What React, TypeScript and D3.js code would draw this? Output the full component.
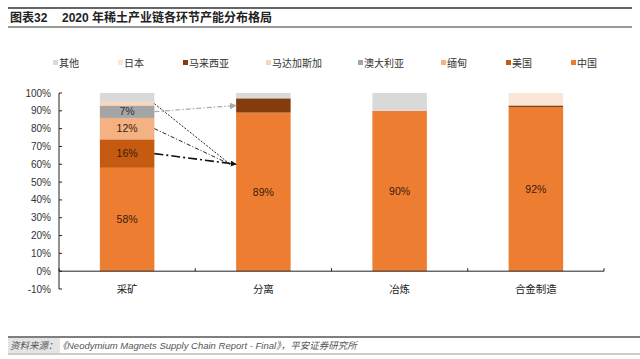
import React, { useEffect, useRef } from "react";
import * as d3 from "d3";

// categories along x
const categories = ["采矿", "分离", "冶炼", "合金制造"];

// series values per category (%), bottom -> top of stack
const china = [58, 89, 90, 92];
const usa = [16, 0, 0, 0];
const myanmar = [12, 0, 0, 0];
const australia = [7, 0, 0, 0];
const madagascar = [2, 0, 0, 0];
const malaysia = [0, 8, 0, 1];
const japan = [0, 0, 0, 7];
const others = [5, 3, 10, 0];

const seriesNames = ["中国", "美国", "缅甸", "澳大利亚", "马达加斯加", "马来西亚", "日本", "其他"];
const seriesValues = [china, usa, myanmar, australia, madagascar, malaysia, japan, others];
const seriesColors = ["#ed7d31", "#c55a11", "#f4b183", "#a5a5a5", "#fbd5b5", "#843c0c", "#fbe5d6", "#d9d9d9"];

// legend reads top of stack first
const legendOrder = ["其他", "日本", "马来西亚", "马达加斯加", "澳大利亚", "缅甸", "美国", "中国"];

// which segments carry a value label
const labelledSegments = [
  ["采矿", "中国"], ["采矿", "美国"], ["采矿", "缅甸"], ["采矿", "澳大利亚"],
  ["分离", "中国"], ["冶炼", "中国"], ["合金制造", "中国"],
];

const yTicks = [-10, 0, 10, 20, 30, 40, 50, 60, 70, 80, 90, 100];

// annotation arrows from 采矿 segments toward 分离
const arrowLinks = [
  { from: "马达加斯加", toValue: 60, kind: "dotted" },
  { from: "缅甸", toValue: 60, kind: "dashdot" },
  { from: "澳大利亚", toValue: 93, kind: "gray" },
  { from: "美国", toValue: 60, kind: "heavy" },
];

const FONT = "'Liberation Sans', Arial, 'Noto Sans CJK SC', sans-serif";

const App = () => {
  const svgRef = useRef<SVGSVGElement | null>(null);

  useEffect(() => {
    if (!svgRef.current) return;
    const W = 640, H = 359;
    const svg = d3.select(svgRef.current);
    svg.selectAll("*").remove();
    svg.attr("width", W).attr("height", H).style("font-family", FONT);

    svg.append("rect").attr("width", W).attr("height", H).attr("fill", "#fff");

    // title block
    svg.append("line").attr("x1", 8).attr("x2", 632).attr("y1", 8).attr("y2", 8)
      .attr("stroke", "#333").attr("stroke-width", 1.5);
    svg.append("line").attr("x1", 8).attr("x2", 632).attr("y1", 27).attr("y2", 27)
      .attr("stroke", "#333").attr("stroke-width", 1.2);
    svg.append("text").attr("x", 10).attr("y", 22)
      .style("font-size", "12px").style("font-weight", "bold").attr("fill", "#222")
      .text("图表32");
    svg.append("text").attr("x", 62).attr("y", 22)
      .style("font-size", "12px").style("font-weight", "bold").attr("fill", "#222")
      .text("2020 年稀土产业链各环节产能分布格局");

    // legend
    const legend = svg.append("g");
    let lx = 53;
    legendOrder.forEach((name) => {
      const color = seriesColors[seriesNames.indexOf(name)];
      legend.append("rect").attr("x", lx).attr("y", 60).attr("width", 5).attr("height", 5).attr("fill", color);
      legend.append("text").attr("x", lx + 6).attr("y", 66.5)
        .style("font-size", "10px").attr("fill", "#333").text(name);
      lx += 47 + 9 * name.length;
    });

    // scales
    const x = d3.scaleBand<string>().domain(categories).range([59, 604]).paddingInner(0.6).paddingOuter(0.3);
    const y = d3.scaleLinear().domain([-10, 100]).range([289, 93]);

    // y axis
    const gy = svg.append("g");
    gy.append("line").attr("x1", 59).attr("x2", 59).attr("y1", y(100)).attr("y2", y(-10))
      .attr("stroke", "#222").attr("stroke-width", 1);
    yTicks.forEach((t) => {
      gy.append("line").attr("x1", 59).attr("x2", 62).attr("y1", y(t)).attr("y2", y(t)).attr("stroke", "#222");
      gy.append("text").attr("x", 51).attr("y", y(t)).attr("dy", "0.35em").attr("text-anchor", "end")
        .style("font-size", "10px").attr("fill", "#333").text(`${t}%`);
    });

    // stacked bars
    const segments: { cat: string; name: string; y0: number; y1: number; color: string }[] = [];
    categories.forEach((cat, ci) => {
      let acc = 0;
      seriesNames.forEach((name, si) => {
        const v = seriesValues[si][ci];
        if (v > 0) segments.push({ cat, name, y0: acc, y1: acc + v, color: seriesColors[si] });
        acc += v;
      });
    });

    svg.append("g").selectAll("rect").data(segments).enter().append("rect")
      .attr("x", (d) => x(d.cat)!)
      .attr("width", x.bandwidth())
      .attr("y", (d) => y(d.y1))
      .attr("height", (d) => y(d.y0) - y(d.y1))
      .attr("fill", (d) => d.color);

    // value labels
    const labelled = segments.filter((s) => labelledSegments.some(([c, n]) => c === s.cat && n === s.name));
    svg.append("g").selectAll("text").data(labelled).enter().append("text")
      .attr("x", (d) => x(d.cat)! + x.bandwidth() / 2)
      .attr("y", (d) => y((d.y0 + d.y1) / 2))
      .attr("dy", "0.35em").attr("text-anchor", "middle")
      .style("font-size", "10.5px")
      .attr("fill", (d) => (d.name === "澳大利亚" ? "#2b2f3a" : "#3d1a08"))
      .text((d) => `${d.y1 - d.y0}%`);

    // x axis at 0%
    const gx = svg.append("g");
    gx.append("line").attr("x1", 59).attr("x2", 604).attr("y1", y(0)).attr("y2", y(0)).attr("stroke", "#222");
    const step = x.step();
    d3.range(categories.length + 1).forEach((i) => {
      const tx = 59 + i * step;
      gx.append("line").attr("x1", tx).attr("x2", tx).attr("y1", y(0) - 3).attr("y2", y(0)).attr("stroke", "#222");
    });
    categories.forEach((c) => {
      gx.append("text").attr("x", x(c)! + x.bandwidth() / 2).attr("y", 289).attr("dy", "0.35em")
        .attr("text-anchor", "middle").style("font-size", "10.5px").attr("fill", "#222").text(c);
    });

    // arrow markers
    const defs = svg.append("defs");
    defs.append("marker").attr("id", "ah-black").attr("viewBox", "0 0 10 10").attr("refX", 9).attr("refY", 5)
      .attr("markerWidth", 6).attr("markerHeight", 6).attr("markerUnits", "userSpaceOnUse")
      .attr("orient", "auto").append("path").attr("d", "M0,0L10,5L0,10Z").attr("fill", "#111");
    defs.append("marker").attr("id", "ah-gray").attr("viewBox", "0 0 10 10").attr("refX", 9).attr("refY", 5)
      .attr("markerWidth", 7).attr("markerHeight", 7).attr("markerUnits", "userSpaceOnUse")
      .attr("orient", "auto").append("path").attr("d", "M0,0L10,5L0,10Z").attr("fill", "#aaa");

    const styles: Record<string, { stroke: string; width: number; dash: string; marker?: string; endGap: number }> = {
      dotted: { stroke: "#222", width: 1, dash: "2,1.5", endGap: 6 },
      dashdot: { stroke: "#222", width: 1, dash: "4,2,1,2", endGap: 6 },
      gray: { stroke: "#aaa", width: 1.2, dash: "5,2,1.5,2", marker: "ah-gray", endGap: 0 },
      heavy: { stroke: "#111", width: 1.6, dash: "9,3,2,3", marker: "ah-black", endGap: 0 },
    };
    const src = categories[0];
    const dst = categories[1];
    arrowLinks.forEach((a) => {
      const seg = segments.find((s) => s.cat === src && s.name === a.from)!;
      const st = styles[a.kind];
      const p = svg.append("line")
        .attr("x1", x(src)! + x.bandwidth())
        .attr("y1", y((seg.y0 + seg.y1) / 2))
        .attr("x2", x(dst)! - st.endGap)
        .attr("y2", y(a.toValue))
        .attr("stroke", st.stroke).attr("stroke-width", st.width).attr("stroke-dasharray", st.dash);
      if (st.marker) p.attr("marker-end", `url(#${st.marker})`);
    });

    // footer
    svg.append("rect").attr("x", 8).attr("y", 338).attr("width", 52).attr("height", 15).attr("fill", "#e4e4e4");
    svg.append("line").attr("x1", 8).attr("x2", 640).attr("y1", 337).attr("y2", 337)
      .attr("stroke", "#555").attr("stroke-width", 1.5);
    svg.append("line").attr("x1", 8).attr("x2", 640).attr("y1", 354).attr("y2", 354)
      .attr("stroke", "#999").attr("stroke-width", 1);
    svg.append("text").attr("x", 10).attr("y", 349)
      .style("font-size", "9.5px").style("font-style", "italic").attr("fill", "#555")
      .text("资料来源：《Neodymium Magnets Supply Chain Report - Final》，平安证券研究所");
  }, []);

  return (
    <div style={{ position: "absolute", left: 0, top: 0, width: 640, height: 359, background: "#fff" }}>
      <svg ref={svgRef} width={640} height={359}></svg>
    </div>
  );
};

export default App;
